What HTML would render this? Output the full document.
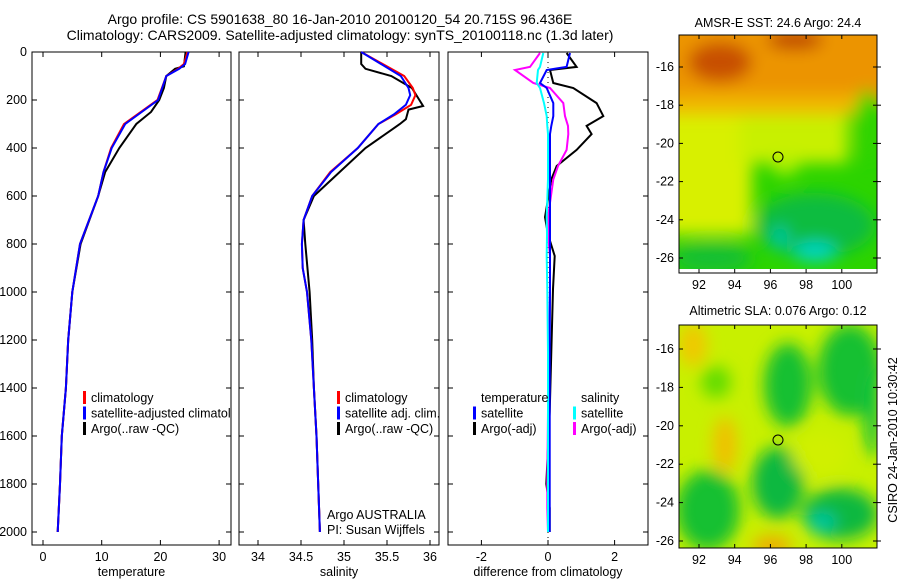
<!DOCTYPE html>
<html><head><meta charset="utf-8"><style>
body{margin:0;background:#fff;}
svg text{font-family:"Liberation Sans",sans-serif;font-size:12.5px;fill:#000;}
</style></head><body>
<svg id="c" width="900" height="580" viewBox="0 0 900 580">
<defs>
<filter id="bl" x="-20%" y="-20%" width="140%" height="140%"><feGaussianBlur stdDeviation="8"/></filter>
<clipPath id="m1"><rect x="679" y="35" width="198" height="234"/></clipPath>
<clipPath id="m2"><rect x="679" y="325" width="198" height="223"/></clipPath>
<clipPath id="p1"><rect x="32" y="44" width="199" height="501"/></clipPath>
<clipPath id="p2"><rect x="239" y="44" width="200" height="501"/></clipPath>
<clipPath id="p3"><rect x="448" y="44" width="200" height="501"/></clipPath>
</defs>
<text x="340" y="24" text-anchor="middle" style="font-size:14px">Argo profile: CS 5901638_80 16-Jan-2010 20100120_54 20.715S 96.436E</text>
<text x="340" y="40" text-anchor="middle" style="font-size:14px">Climatology: CARS2009. Satellite-adjusted climatology: synTS_20100118.nc (1.3d later)</text>

<g>
<g clip-path="url(#m1)">
<rect x="679" y="35" width="198" height="238" fill="#2cd400"/>
<g filter="url(#bl)">
<rect x="660" y="105" width="92" height="130" fill="#d8f000"/>
<rect x="740" y="108" width="108" height="55" fill="#c8f000"/>
<ellipse cx="785" cy="165" rx="14" ry="10" fill="#b0f000"/>
<rect x="660" y="15" width="240" height="88" fill="#ec9400"/>
<rect x="660" y="95" width="200" height="20" fill="#f0b800"/>
<ellipse cx="720" cy="62" rx="32" ry="20" fill="#c85000"/>
<ellipse cx="795" cy="40" rx="28" ry="10" fill="#c04800"/>
<ellipse cx="868" cy="125" rx="14" ry="35" fill="#30d400"/>
<ellipse cx="815" cy="225" rx="60" ry="32" fill="#10bc40"/>
<ellipse cx="712" cy="258" rx="40" ry="16" fill="#18c030"/>
<ellipse cx="815" cy="252" rx="22" ry="10" fill="#00d4c4"/>
<ellipse cx="780" cy="238" rx="8" ry="12" fill="#00c8a8"/>
</g>
<rect x="679" y="269" width="198" height="6" fill="#fff"/>
</g>
<rect x="679" y="35" width="198" height="238" fill="none" stroke="#000"/>
<circle cx="778" cy="157" r="5" fill="none" stroke="#000"/>
</g>
<text x="778" y="27" text-anchor="middle">AMSR-E SST: 24.6 Argo: 24.4</text>

<g>
<g clip-path="url(#m2)">
<rect x="679" y="325" width="198" height="223" fill="#c8f000"/>
<g filter="url(#bl)">
<ellipse cx="693" cy="345" rx="14" ry="22" fill="#f0c800"/>
<ellipse cx="716" cy="382" rx="15" ry="16" fill="#60dc00"/>
<ellipse cx="788" cy="385" rx="24" ry="42" fill="#18c030"/>
<ellipse cx="850" cy="370" rx="32" ry="46" fill="#18c030"/>
<ellipse cx="872" cy="412" rx="8" ry="45" fill="#10c040"/>
<ellipse cx="725" cy="445" rx="12" ry="28" fill="#f0c000"/>
<ellipse cx="708" cy="510" rx="32" ry="40" fill="#18c030"/>
<ellipse cx="778" cy="483" rx="26" ry="36" fill="#10b840"/>
<ellipse cx="840" cy="514" rx="38" ry="26" fill="#10b840"/>
<ellipse cx="822" cy="522" rx="14" ry="9" fill="#00c8a8"/>
<ellipse cx="772" cy="546" rx="20" ry="10" fill="#f0a800"/>
<ellipse cx="820" cy="455" rx="28" ry="22" fill="#d0f000"/>
</g>
</g>
<rect x="679" y="325" width="198" height="223" fill="none" stroke="#000"/>
<circle cx="778" cy="440" r="5" fill="none" stroke="#000"/>
</g>
<text x="778" y="315" text-anchor="middle">Altimetric SLA: 0.076 Argo: 0.12</text>
<text transform="translate(897,440) rotate(-90)" text-anchor="middle">CSIRO 24-Jan-2010 10:30:42</text>
<g id="g"></g>
</svg>
<script>
// ---- data ----
const tDepth = [0,50,70,100,200,300,400,500,600,800,1000,1200,1400,1600,1800,2000];
const tClim  = [24.6,24.0,23.0,21.0,19.5,13.8,11.6,10.3,9.4,6.3,5.0,4.3,3.9,3.2,2.9,2.5];
const tSat   = [24.8,24.2,23.2,21.0,19.6,14.0,11.7,10.3,9.4,6.3,5.0,4.3,3.9,3.2,2.9,2.5];
const tArgoDepth = [0,60,70,100,150,200,250,300,400,500,600,800,1000,1200,1400,1600,1800,2000];
const tArgo  = [24.3,24.0,22.5,21.0,20.6,19.8,18.4,15.9,13.0,10.6,9.4,6.4,5.0,4.3,3.9,3.2,2.9,2.5];
const sDepth = [0,50,100,150,180,220,260,300,400,500,600,700,800,900,1000,1200,1400,1600,1800,2000];
const sClim  = [35.2,35.45,35.7,35.8,35.83,35.78,35.6,35.4,35.16,34.84,34.63,34.53,34.51,34.52,34.57,34.62,34.65,34.68,34.7,34.72];
const sSat   = [35.2,35.43,35.66,35.75,35.77,35.72,35.58,35.4,35.16,34.85,34.63,34.53,34.51,34.52,34.57,34.62,34.65,34.68,34.7,34.72];
const sArgoDepth = [0,50,70,100,150,225,240,280,300,400,500,600,700,800,1000,1200,1400,1600,1800,2000];
const sArgo  = [35.2,35.2,35.25,35.55,35.79,35.92,35.75,35.72,35.65,35.25,34.95,34.65,34.53,34.55,34.6,34.63,34.65,34.68,34.7,34.72];
const dDepth = [4,62,75,129,150,213,267,308,342,408,475,531,688,760,850,988,1250,1500,1800,1900,2000];
const dTArgo = [0.56,0.86,0.06,0.16,0.76,1.46,1.66,1.16,1.31,0.86,0.26,0.1,-0.09,0,0.2,0.15,0.1,0.05,-0.05,0.05,0.05];
const dTSat  = [0.66,0.56,-0.04,-0.24,-0.04,0.16,0.16,0.1,0.06,0.06,0.06,0.06,0.06,0.06,0.06,0.06,0.05,0.05,0.05,0.05,0.05];
const dSArgo = [-0.24,-0.54,-0.99,-0.44,0.06,0.46,0.51,0.6,0.61,0.56,0.3,0.16,0,0,0.06,0.06,0.03,0,-0.02,-0.02,0];
const dSSat  = [-0.14,-0.24,-0.3,-0.34,-0.24,-0.12,-0.04,-0.02,0,0,0,0,-0.04,-0.03,-0.04,-0.02,0,0,0,0,0];
const depthTicks = [0,200,400,600,800,1000,1200,1400,1600,1800,2000];
const tTicks = [0,10,20,30];
const sTicks = ["34","34.5","35","35.5","36"];
const dTicks = [-2,0,2];
const lonTicks = [92,94,96,98,100];
const latTicks = [-16,-18,-20,-22,-24,-26];

const NS='http://www.w3.org/2000/svg';
const G=document.getElementById('g');
function mk(tag,at,par){const e=document.createElementNS(NS,tag);for(const k in at)e.setAttribute(k,at[k]);(par||G).appendChild(e);return e;}
const yD=d=>52+d*0.24;
const xT=v=>43+v*5.87;
const xS=v=>258+(v-34)*86;
const xDf=v=>548+v*33.3;

function panel(x0,x1,name,ticks,xf,title,cp){
  const g=mk('g',{});
  
  
  mk('rect',{x:x0,y:52,width:x1-x0,height:493,fill:'none',stroke:'#000'},g);
  depthTicks.forEach(d=>{const y=yD(d);
    mk('line',{x1:x0,x2:x0+5,y1:y,y2:y,stroke:'#000'},g);
    mk('line',{x1:x1-5,x2:x1,y1:y,y2:y,stroke:'#000'},g);});
  ticks.forEach(t=>{const x=xf(+t);
    mk('line',{x1:x,x2:x,y1:52,y2:57,stroke:'#000'},g);
    mk('line',{x1:x,x2:x,y1:540,y2:545,stroke:'#000'},g);
    const tx=mk('text',{x:x,y:561,'text-anchor':'middle'},g);tx.textContent=t;
    
    });
  const tt=mk('text',{x:(x0+x1)/2,y:576,'text-anchor':'middle'},g);tt.textContent=title;
  
  
  const lg=mk('g',{'clip-path':'url(#'+cp+')'},g);
  return lg;
}
function line(par,xs,ds,xf,col,name){
  const p=xs.map((v,i)=>xf(v).toFixed(1)+','+yD(ds[i]).toFixed(1)).join(' ');
  const e=mk('polyline',{points:p,fill:'none',stroke:col,'stroke-width':2},par);
  
  
}
depthTicks.forEach(d=>{const t=mk('text',{x:27,y:yD(d)+4,'text-anchor':'end'});t.textContent=d;
  
  });

const l1=panel(32,231,'temperature-panel',tTicks,xT,'temperature','p1');
line(l1,tArgo,tArgoDepth,xT,'#000','temp-argo-line');
line(l1,tClim,tDepth,xT,'#f00','temp-climatology-line');
line(l1,tSat,tDepth,xT,'#00f','temp-satellite-line');
const l2=panel(239,439,'salinity-panel',sTicks,xS,'salinity','p2');
line(l2,sArgo,sArgoDepth,xS,'#000','sal-argo-line');
line(l2,sClim,sDepth,xS,'#f00','sal-climatology-line');
line(l2,sSat,sDepth,xS,'#00f','sal-satellite-line');
const l3=panel(448,648,'difference-panel',dTicks,xDf,'difference from climatology','p3');
mk('line',{x1:548,x2:548,y1:52,y2:545,stroke:'#000','stroke-dasharray':'1,4'},l3);
line(l3,dTArgo,dDepth,xDf,'#000','diff-temp-argo-line');
line(l3,dSArgo,dDepth,xDf,'#f0f','diff-sal-argo-line');
line(l3,dTSat,dDepth,xDf,'#00f','diff-temp-satellite-line');
line(l3,dSSat,dDepth,xDf,'#0ff','diff-sal-satellite-line');

function legend(items,bx,y0,cp,name){
  const g=mk('g',{'clip-path':'url(#'+cp+')'});
  
  
  items.forEach((it,i)=>{const y=y0+i*15.5;
    if(it[1])mk('rect',{x:bx,y:y-11,width:3,height:13,fill:it[1]},g);
    const t=mk('text',{x:bx+(it[2]||8),y:y},g);t.textContent=it[0];});
}
legend([['climatology','#f00'],['satellite-adjusted climatology','#00f'],['Argo(..raw -QC)','#000']],83,402,'p1','temp-legend');
legend([['climatology','#f00'],['satellite adj. clim.','#00f'],['Argo(..raw -QC)','#000']],337,402,'p2','sal-legend');
legend([['temperature',null],['satellite','#00f'],['Argo(-adj)','#000']],473,402,'p3','diff-temp-legend');
legend([['salinity',null],['satellite','#0ff'],['Argo(-adj)','#f0f']],573,402,'p3','diff-sal-legend');
const a1=mk('text',{x:327,y:519});a1.textContent='Argo AUSTRALIA';


const a2=mk('text',{x:327,y:534});a2.textContent='PI: Susan Wijffels';



function mapAxes(y0,y1,lat16,latStep,name){
  const g=mk('g',{});
  
  
  lonTicks.forEach(l=>{const x=699+(l-92)*17.85;
    mk('line',{x1:x,x2:x,y1:y0,y2:y0+4,stroke:'#000'},g);
    mk('line',{x1:x,x2:x,y1:y1-4,y2:y1,stroke:'#000'},g);
    const t=mk('text',{x:x,y:y1+16,'text-anchor':'middle'},g);t.textContent=l;});
  latTicks.forEach(l=>{const y=lat16+(-16-l)*latStep;
    mk('line',{x1:679,x2:683,y1:y,y2:y,stroke:'#000'},g);
    mk('line',{x1:873,x2:881,y1:y,y2:y,stroke:'#000'},g);
    const t=mk('text',{x:674,y:y+4,'text-anchor':'end'},g);t.textContent=l;});
}
mapAxes(35,273,67,19.1,'sst-map-axes');
mapAxes(325,548,349,19.2,'sla-map-axes');
</script>
</body></html>
